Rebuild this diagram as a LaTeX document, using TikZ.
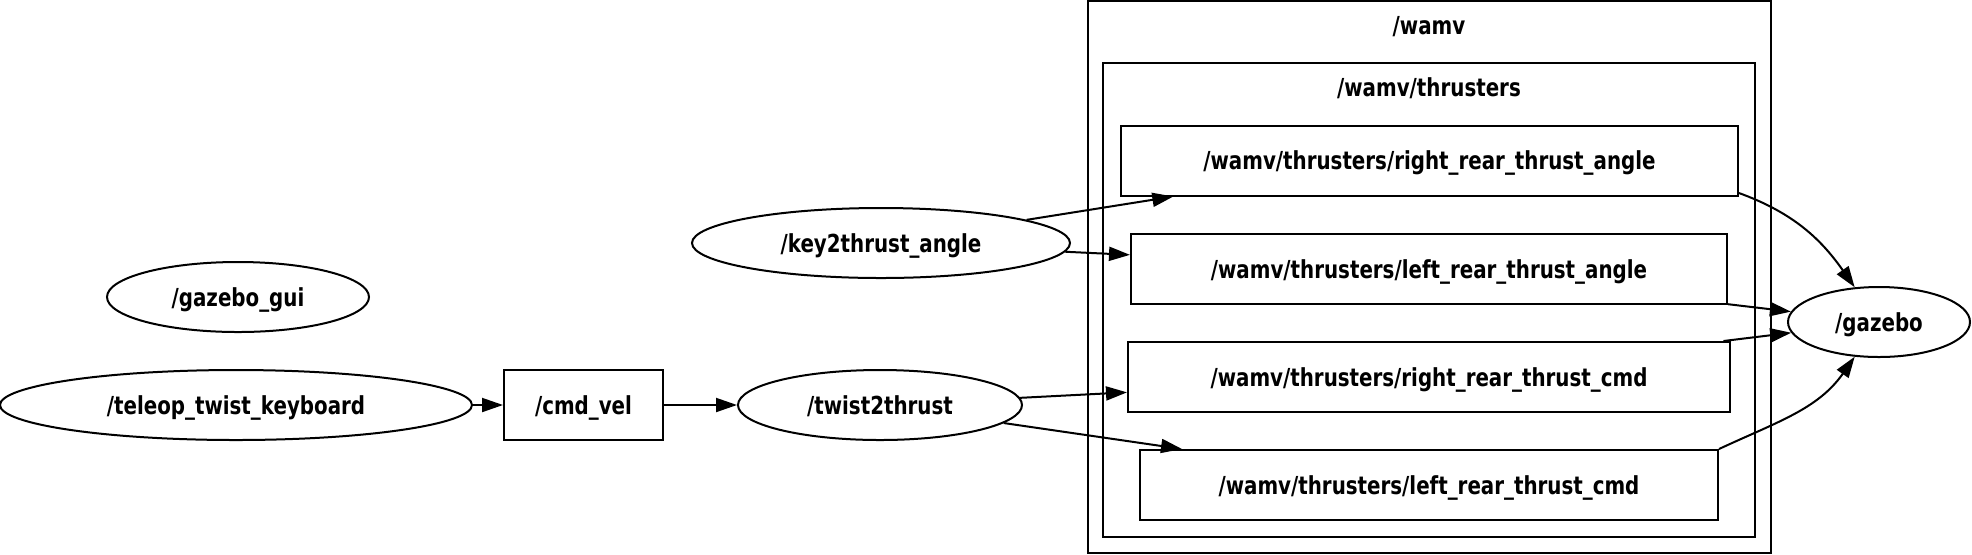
\documentclass[tikz,border=0pt]{standalone}
\usepackage{fontspec}
\setmainfont{DejaVu Sans}[FakeStretch=0.8]
\usepackage{tikz}
\usetikzlibrary{arrows.meta,shapes.geometric}

\begin{document}
\begin{tikzpicture}[
    x=0.5pt, y=0.5pt,
    font=\fontsize{12.4}{14}\selectfont\bfseries,
    every node/.style={text depth=0pt},
    proc/.style={ellipse, draw, line width=1pt, inner sep=0pt, minimum height=35pt},
    topic/.style={rectangle, draw, line width=1pt, inner sep=0pt, minimum height=35pt},
    cluster/.style={draw, line width=1pt},
    edge/.style={-{Triangle[length=10.5pt, width=7pt]}, line width=1pt}]

  \useasboundingbox (0,0) rectangle (1972,-554);

  % groups
  \draw[cluster] (1088,-1) rectangle (1771,-553);
  \node (wamvlbl) at (1429,-25) {/wamv};
  \draw[cluster] (1103,-63) rectangle (1755,-537);
  \node (thrusterslbl) at (1429,-87) {/wamv/thrusters};

  % nodes
  \node[proc, minimum width=131pt] (gazebogui) at (238,-297) {/gazebo\_gui};
  \node[proc, minimum width=236pt] (teleop) at (236,-405) {/teleop\_twist\_keyboard};
  \node[topic, minimum width=79.5pt] (cmdvel) at (583.5,-405) {/cmd\_vel};
  \node[proc, minimum width=142pt] (twist) at (880,-405) {/twist2thrust};
  \node[proc, minimum width=189pt] (keyangle) at (881,-243) {/key2thrust\_angle};

  \node[topic, minimum width=308.5pt] (rra) at (1429.5,-160.5) {/wamv/thrusters/right\_rear\_thrust\_angle};
  \node[topic, minimum width=298pt] (lra) at (1429,-269) {/wamv/thrusters/left\_rear\_thrust\_angle};
  \node[topic, minimum width=301pt] (rrc) at (1429,-377) {/wamv/thrusters/right\_rear\_thrust\_cmd};
  \node[topic, minimum width=289pt] (lrc) at (1429,-485) {/wamv/thrusters/left\_rear\_thrust\_cmd};

  \node[proc, minimum width=91pt] (gazebo) at (1879,-322) {/gazebo};

  % edges
  \draw[edge] (teleop) -- (cmdvel);
  \draw[edge] (cmdvel) -- (twist);
  \draw[edge] (keyangle) -- (rra.188.5);
  \draw[edge] (keyangle) -- (lra);
  \draw[edge] (twist) -- (rrc);
  \draw[edge] (twist) -- (lrc);
  \draw[edge] (rra.-6.7) to[out=-20, in=125] (gazebo.125);
  \draw[edge] (lra) -- (gazebo);
  \draw[edge] (rrc) -- (gazebo);
  \draw[edge] (lrc.north east) to[out=25, in=-125] (gazebo.-125);
\end{tikzpicture}
\end{document}
